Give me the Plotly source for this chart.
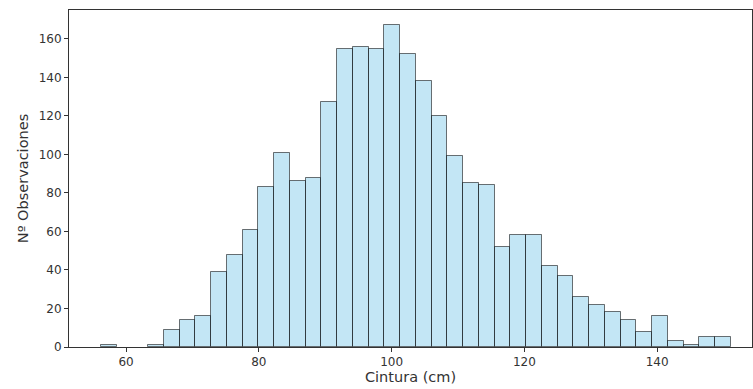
import numpy as np
import plotly.graph_objects as go

# Histogram of waist measurements: 40 equal-width bins
bin_start = 56.2      # left edge of the first bin (cm)
bin_width = 2.3725    # width of each bin (cm)
counts = [1, 0, 0, 1, 9, 14, 16, 39, 48, 61,
          83, 101, 86, 88, 127, 155, 156, 155, 167, 152,
          138, 120, 99, 85, 84, 52, 58, 58, 42, 37,
          26, 22, 18, 14, 8, 16, 3, 1, 5, 5]

x_ticks = [60, 80, 100, 120, 140]
y_ticks = [0, 20, 40, 60, 80, 100, 120, 140, 160]

counts_arr = np.array(counts)
centers = bin_start + bin_width * (np.arange(len(counts)) + 0.5)
# empty bins get no outline
edge_widths = np.where(counts_arr > 0, 1.0, 0.0)

fig = go.Figure(
    go.Bar(
        x=centers,
        y=counts_arr,
        width=bin_width,
        marker=dict(color="rgba(135,206,235,0.5)",
                    line=dict(color="rgba(0,0,0,0.55)", width=edge_widths)),
    )
)

text_color = "#333333"
axis_common = dict(
    showline=True, linecolor=text_color, linewidth=1, mirror=True,
    ticks="outside", ticklen=4, tickcolor=text_color,
    showgrid=False, zeroline=False,
    tickfont=dict(family="DejaVu Sans", size=12, color=text_color),
)

fig.update_layout(
    width=753, height=389,
    margin=dict(l=69, r=1, t=10, b=42),
    plot_bgcolor="white", paper_bgcolor="white",
    showlegend=False,
    bargap=0,
    xaxis=dict(range=[51.4, 154.3], tickvals=x_ticks,
               title=dict(text="Cintura (cm)", standoff=3,
                          font=dict(family="DejaVu Sans", size=14.5, color=text_color)),
               **axis_common),
    yaxis=dict(range=[0, 175], tickvals=y_ticks,
               title=dict(text="Nº Observaciones", standoff=6,
                          font=dict(family="DejaVu Sans", size=14.5, color=text_color)),
               **axis_common),
)

fig.write_html("out.html")
